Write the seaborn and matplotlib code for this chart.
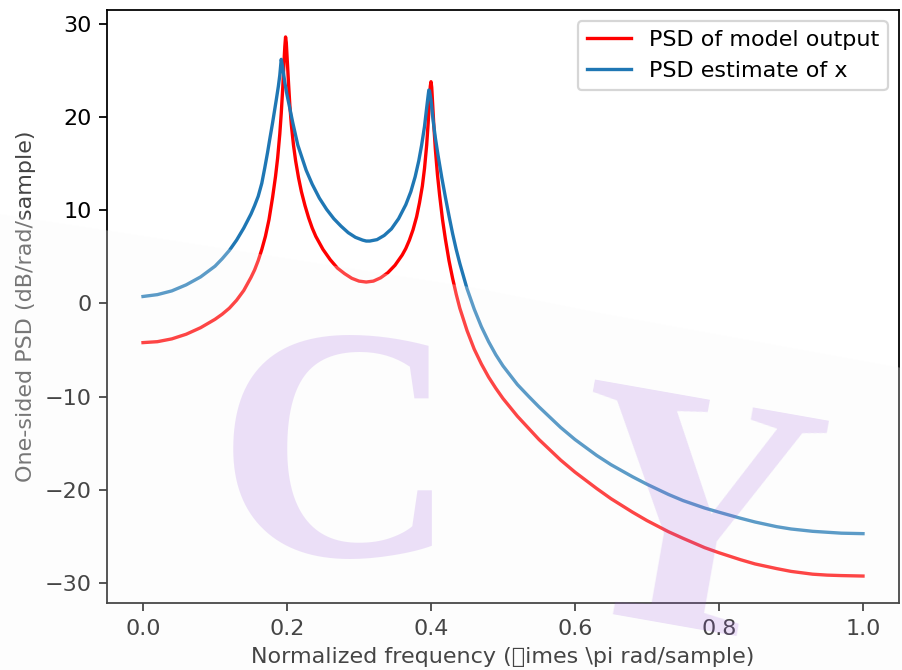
import numpy as np
import pandas as pd
import matplotlib
matplotlib.use("Agg")
import matplotlib.pyplot as plt
from matplotlib.patches import Polygon
import seaborn as sns

# ---- data ----
freq_model = [0.00, 0.02, 0.04, 0.06, 0.08, 0.10, 0.11, 0.12, 0.13, 0.14, 0.15, 0.155,
              0.16, 0.165, 0.17, 0.175, 0.180, 0.184, 0.187, 0.190, 0.192, 0.194, 0.196,
              0.197, 0.198, 0.199, 0.200, 0.202, 0.204, 0.206, 0.209, 0.212, 0.216, 0.220,
              0.225, 0.230, 0.235, 0.240, 0.25, 0.26, 0.27, 0.28, 0.29, 0.30, 0.31, 0.32,
              0.33, 0.34, 0.35, 0.36, 0.365, 0.37, 0.375, 0.38, 0.384, 0.388, 0.391, 0.394,
              0.396, 0.398, 0.399, 0.400, 0.401, 0.402, 0.404, 0.406, 0.409, 0.412, 0.416,
              0.42, 0.425, 0.43, 0.435, 0.44, 0.45, 0.46, 0.47, 0.48, 0.49, 0.50, 0.52,
              0.55, 0.58, 0.60, 0.63, 0.65, 0.68, 0.70, 0.73, 0.75, 0.78, 0.80, 0.83,
              0.85, 0.88, 0.90, 0.93, 0.95, 0.97, 1.00]
psd_model = [-4.2, -4.1, -3.8, -3.3, -2.6, -1.7, -1.15, -0.5, 0.35, 1.4, 2.8, 3.6,
             4.6, 5.8, 7.2, 9.0, 11.4, 13.6, 15.6, 18.2, 20.4, 23.0, 26.2,
             27.6, 28.6, 28.0, 26.6, 23.8, 21.2, 19.2, 17.0, 15.3, 13.5, 12.0,
             10.5, 9.2, 8.1, 7.2, 5.8, 4.7, 3.8, 3.2, 2.7, 2.4, 2.3, 2.4,
             2.75, 3.3, 4.1, 5.2, 5.9, 6.8, 7.9, 9.3, 10.8, 12.6, 14.5, 17.0,
             19.3, 22.0, 23.3, 23.8, 23.2, 21.8, 19.0, 16.6, 13.8, 11.6, 9.0,
             6.9, 4.6, 2.7, 1.0, -0.5, -2.9, -4.9, -6.5, -7.9, -9.1, -10.2, -12.1,
             -14.6, -16.8, -18.1, -19.85, -20.95, -22.4, -23.3, -24.5, -25.2, -26.2, -26.75, -27.5,
             -27.95, -28.45, -28.75, -29.05, -29.15, -29.2, -29.25]

freq_est = [0.00, 0.02, 0.04, 0.06, 0.08, 0.10, 0.11, 0.12, 0.13, 0.14, 0.15, 0.155,
            0.16, 0.165, 0.169, 0.173, 0.176, 0.180, 0.185, 0.188, 0.190, 0.192, 0.194,
            0.197, 0.200, 0.2035, 0.208, 0.215, 0.2266, 0.235, 0.245, 0.255, 0.265,
            0.275, 0.285, 0.295, 0.305, 0.31, 0.315, 0.325, 0.335, 0.345, 0.355, 0.365,
            0.372, 0.378, 0.383, 0.387, 0.391, 0.394, 0.396, 0.397, 0.398, 0.400, 0.403,
            0.406, 0.41, 0.415, 0.42, 0.425, 0.43, 0.435, 0.44, 0.45, 0.46, 0.47,
            0.48, 0.49, 0.50, 0.52, 0.536, 0.55, 0.58, 0.60, 0.63, 0.65, 0.68, 0.70,
            0.73, 0.75, 0.78, 0.80, 0.83, 0.85, 0.88, 0.90, 0.93, 0.95, 0.97, 1.00]
psd_est = [0.75, 0.95, 1.35, 2.0, 2.85, 4.0, 4.8, 5.7, 6.8, 8.1, 9.6, 10.5,
           11.5, 12.9, 14.5, 16.2, 17.6, 19.4, 21.8, 23.3, 24.5, 26.2, 25.3,
           23.7, 22.4, 21.1, 19.4, 17.0, 14.3, 12.8, 11.3, 10.1, 9.1,
           8.3, 7.6, 7.1, 6.8, 6.7, 6.7, 6.85, 7.3, 8.0, 9.1, 10.6,
           12.0, 13.6, 15.3, 17.0, 19.0, 21.0, 22.3, 22.9, 22.8, 21.8, 19.6,
           17.8, 15.8, 13.5, 11.4, 9.4, 7.5, 5.8, 4.3, 1.6, -0.6, -2.5,
           -4.1, -5.5, -6.7, -8.7, -10.0, -11.1, -13.3, -14.6, -16.3, -17.3, -18.6, -19.4,
           -20.5, -21.15, -21.95, -22.4, -23.05, -23.45, -23.95, -24.2, -24.45, -24.55, -24.65, -24.7]

series_labels = ["PSD of model output", "PSD estimate of x"]
x_label = "Normalized frequency (\times \\pi rad/sample)"
y_label = "One-sided PSD (dB/rad/sample)"
watermark = ["C", "Y"]

df_model = pd.DataFrame({"f": freq_model, "psd": psd_model})
df_est = pd.DataFrame({"f": freq_est, "psd": psd_est})

W, H, DPI = 902, 670, 160
fig = plt.figure(figsize=(W / DPI, H / DPI), dpi=DPI)
ax = fig.add_axes([107 / W, 1 - 603 / H, 792 / W, 593 / H])

sns.lineplot(data=df_model, x="f", y="psd", color="red", linewidth=1.5,
             label=series_labels[0], ax=ax)
sns.lineplot(data=df_est, x="f", y="psd", color="#1f77b4", linewidth=1.5,
             label=series_labels[1], ax=ax)

ax.set_xlabel(x_label)
ax.set_ylabel(y_label, color="#444444")
ax.set_xticks([0.0, 0.2, 0.4, 0.6, 0.8, 1.0])
ax.set_yticks([-30, -20, -10, 0, 10, 20, 30])
ax.legend(loc="upper right")

# faint whitish overlay of the screenshot (lower part)
pts_px = [(0, 214), (150, 237), (470, 287), (600, 313), (902, 368), (902, 670), (0, 670)]
poly = Polygon([(x / W, 1 - y / H) for x, y in pts_px], closed=True,
               transform=fig.transFigure, facecolor=(251 / 255, 251 / 255, 251 / 255),
               edgecolor="none", alpha=0.28, zorder=10)
fig.add_artist(poly)

# watermark letters
fig.text(337 / W, 1 - 556 / H, watermark[0], fontsize=150, family="Liberation Serif",
         weight="bold", color=(150 / 255, 80 / 255, 220 / 255), alpha=0.17,
         ha="center", va="baseline", zorder=11)
fig.text(672 / W, 1 - 626 / H, watermark[1], fontsize=156, family="Liberation Serif",
         weight="bold", color=(150 / 255, 80 / 255, 220 / 255), alpha=0.17,
         ha="center", va="baseline", rotation=-10, rotation_mode="anchor", zorder=11)

fig.savefig("out.png", dpi=DPI)
